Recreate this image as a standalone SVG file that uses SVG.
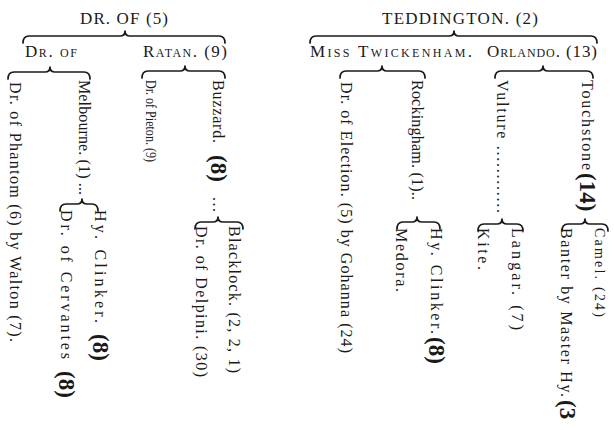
<svg xmlns="http://www.w3.org/2000/svg" width="614" height="430" viewBox="0 0 614 430">
<style>
text{font-family:"Liberation Serif","Times New Roman",serif;fill:#1a1a1a;}
.h{font-size:17px;}
.sc{font-size:17px;font-variant:small-caps;}
.v{font-size:16px;}
.m{font-size:15px;}
.s{font-size:14px;}
.b{font-size:23px;font-weight:bold;}
.br{fill:none;stroke:#1a1a1a;stroke-width:1.7;stroke-linecap:round;stroke-linejoin:round;}
</style>
<rect width="614" height="430" fill="#fff"/>
<g id="connectors">
<path class="br" d="M23 43 Q23 36 29 36 L120 36 Q125 36 125 31 Q125 36 130 36 L219 36 Q225 36 225 43"/>
<path class="br" d="M310 43 Q310 36 316 36 L449 36 Q454 36 454 31 Q454 36 459 36 L591 36 Q597 36 597 43"/>
<path class="br" d="M8 79 Q8 72 14 72 L45 72 Q50 72 50 67 Q50 72 55 72 L84 72 Q90 72 90 79"/>
<path class="br" d="M142 78 Q142 71 148 71 L180 71 Q185 71 185 66 Q185 71 190 71 L219 71 Q225 71 225 78"/>
<path class="br" d="M340 78 Q340 71 346 71 L377 71 Q382 71 382 66 Q382 71 387 71 L419 71 Q425 71 425 78"/>
<path class="br" d="M495 78 Q495 71 501 71 L538 71 Q543 71 543 66 Q543 71 548 71 L587 71 Q593 71 593 78"/>
<path class="br" d="M60 211 Q60 204 66 204 L77 204 Q82 204 82 199 Q82 204 87 204 L92 204 Q98 204 98 211"/>
<path class="br" d="M195 229 Q195 222 201 222 L213 222 Q218 222 218 217 Q218 222 223 222 L237 222 Q243 222 243 229"/>
<path class="br" d="M397 229 Q397 222 403 222 L412 222 Q417 222 417 217 Q417 222 422 222 L434 222 Q440 222 440 229"/>
<path class="br" d="M478 231 Q478 224 484 224 L497 224 Q502 224 502 219 Q502 224 507 224 L517 224 Q523 224 523 231"/>
<path class="br" d="M562 231 Q562 224 568 224 L580 224 Q585 224 585 219 Q585 224 590 224 L602 224 Q608 224 608 231"/>
</g>
<g id="dr-of-5"><text class="h" x="80" y="24" textLength="88" lengthAdjust="spacing">DR. OF (5)</text></g>
<g id="dr-of"><text class="sc" x="25" y="57" textLength="52" lengthAdjust="spacing">Dr. of</text></g>
<g id="ratan"><text class="sc" x="143" y="57" textLength="84" lengthAdjust="spacing">Ratan. (9)</text></g>
<g id="teddington"><text class="h" x="382" y="24" textLength="156" lengthAdjust="spacing">TEDDINGTON. (2)</text></g>
<g id="miss-twickenham"><text class="sc" x="310" y="57" textLength="162" lengthAdjust="spacing">Miss Twickenham.</text></g>
<g id="orlando"><text class="sc" x="487" y="57" textLength="110" lengthAdjust="spacing">Orlando. (13)</text></g>

<g id="phantom"><text class="v" transform="translate(10,82) rotate(90)" textLength="260" lengthAdjust="spacing">Dr. of Phantom (6) by Walton (7).</text></g>
<g id="melbourne"><text class="v" transform="translate(79,80) rotate(90)" textLength="115" lengthAdjust="spacing">Melbourne. (1) ...</text></g>
<g id="hy-clinker-1"><text class="v" transform="translate(95,210) rotate(90)" textLength="113" lengthAdjust="spacing">Hy. Clinker.</text><text class="b" transform="translate(93,334) rotate(90)">(8)</text></g>
<g id="cervantes"><text class="v" transform="translate(61,210) rotate(90)" textLength="149" lengthAdjust="spacing">Dr. of Cervantes</text><text class="b" transform="translate(59,371) rotate(90)">(8)</text></g>
<g id="pieton"><text class="m" transform="translate(146,80) rotate(90)" textLength="82" lengthAdjust="spacingAndGlyphs">Dr. of Pieton. (9)</text></g>
<g id="buzzard"><text class="v" transform="translate(213,80) rotate(90)" textLength="63" lengthAdjust="spacing">Buzzard.</text><text class="b" transform="translate(211,155) rotate(90)">(8)</text><text class="v" transform="translate(213,197) rotate(90)" textLength="15" lengthAdjust="spacing">...</text></g>
<g id="blacklock"><text class="v" transform="translate(229,226) rotate(90)" textLength="147" lengthAdjust="spacing">Blacklock. (2, 2, 1)</text></g>
<g id="delpini"><text class="v" transform="translate(196,226) rotate(90)" textLength="151" lengthAdjust="spacing">Dr. of Delpini. (30)</text></g>

<g id="election"><text class="v" transform="translate(341,82) rotate(90)" textLength="271" lengthAdjust="spacing">Dr. of Election. (5) by Gohanna (24)</text></g>
<g id="rockingham"><text class="v" transform="translate(412,80) rotate(90)" textLength="120" lengthAdjust="spacing">Rockingham. (1)..</text></g>
<g id="hy-clinker-2"><text class="v" transform="translate(431,228) rotate(90)" textLength="106" lengthAdjust="spacing">Hy. Clinker.</text><text class="b" transform="translate(429,337) rotate(90)">(8)</text></g>
<g id="medora"><text class="v" transform="translate(396,228) rotate(90)" textLength="64" lengthAdjust="spacing">Medora.</text></g>
<g id="vulture"><text class="v" transform="translate(497,80) rotate(90)" textLength="133" lengthAdjust="spacing">Vulture ............</text></g>
<g id="langar"><text class="v" transform="translate(512,228) rotate(90)" textLength="102" lengthAdjust="spacing">Langar. (7)</text></g>
<g id="kite"><text class="v" transform="translate(478,228) rotate(90)" textLength="42" lengthAdjust="spacing">Kite.</text></g>
<g id="touchstone"><text class="v" transform="translate(582,80) rotate(90)" textLength="90" lengthAdjust="spacing">Touchstone</text><text class="b" transform="translate(580,173) rotate(90)">(14)</text></g>
<g id="camel"><text class="s" transform="translate(595,228) rotate(90)" textLength="89" lengthAdjust="spacing">Camel. (24)</text></g>
<g id="banter"><text class="v" transform="translate(561,228) rotate(90)" textLength="169" lengthAdjust="spacing">Banter by Master Hy.</text><text class="b" transform="translate(560,400) rotate(90)">(3</text></g>
</svg>
